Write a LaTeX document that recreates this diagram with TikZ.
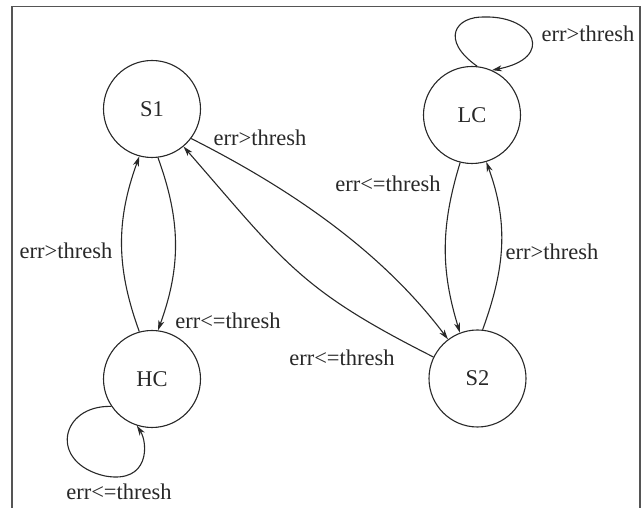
\documentclass[tikz,border=0pt]{standalone}
\usepackage{fontspec}
\setmainfont{Liberation Serif}
\usetikzlibrary{arrows.meta}
\definecolor{framegray}{RGB}{85,85,85}
\definecolor{ink}{RGB}{40,40,40}
\begin{document}
\begin{tikzpicture}[x=1pt,y=1pt,
  state/.style={circle,draw=ink,line width=1.1pt,minimum size=97pt,inner sep=0pt,font=\fontsize{22.5}{27}\selectfont,text=ink},
  lbl/.style={inner sep=0pt,font=\fontsize{22.5}{27}\selectfont,text=ink},
  edge/.style={draw=ink,line width=1.1pt,-{Stealth[length=10pt,width=6pt,inset=3pt]}},
  frame/.style={line width=1.6pt,draw=framegray}]
\useasboundingbox (0,0) rectangle (641,508);
\draw[frame] (12,0) -- (12,501.5) -- (640,501.5) -- (640,0);
\node[state] (S1) at (152,399) {S1};
\node[state] (HC) at (152,129) {HC};
\node[state] (LC) at (472,393) {LC};
\node[state] (S2) at (477.5,129.5) {S2};
\draw[edge] (S1.-83) to[out=-70,in=70] (HC.83);
\draw[edge] (HC.105) to[out=110,in=-110] (S1.-105);
\draw[edge] (S1.-37) .. controls (287,321) and (380,259) .. (S2.127);
\draw[edge] (S2.154) .. controls (299.5,218.5) and (285,245) .. (S1.-50);
\draw[edge] (LC.-104) to[out=-107,in=107] (S2.111);
\draw[edge] (S2.84) to[out=70,in=-70] (LC.-73);
\draw[edge] (HC.214) .. controls (60,103) and (48,45) .. (105,32) .. controls (150,24) and (148,65) .. (HC.252);
\draw[edge] (LC.84) .. controls (440,468) and (455,492) .. (485,491) .. controls (535,492) and (555,450) .. (LC.66);
\node[lbl] (l1) at (260,370) {err>thresh};
\node[lbl] (l2) at (588,474) {err>thresh};
\node[lbl] (l3) at (388,324) {err<=thresh};
\node[lbl] (l4) at (552,256) {err>thresh};
\node[lbl] (l5) at (66,257) {err>thresh};
\node[lbl] (l6) at (228,187) {err<=thresh};
\node[lbl] (l7) at (342,150) {err<=thresh};
\node[lbl] (l8) at (119,16) {err<=thresh};
\end{tikzpicture}
\end{document}
